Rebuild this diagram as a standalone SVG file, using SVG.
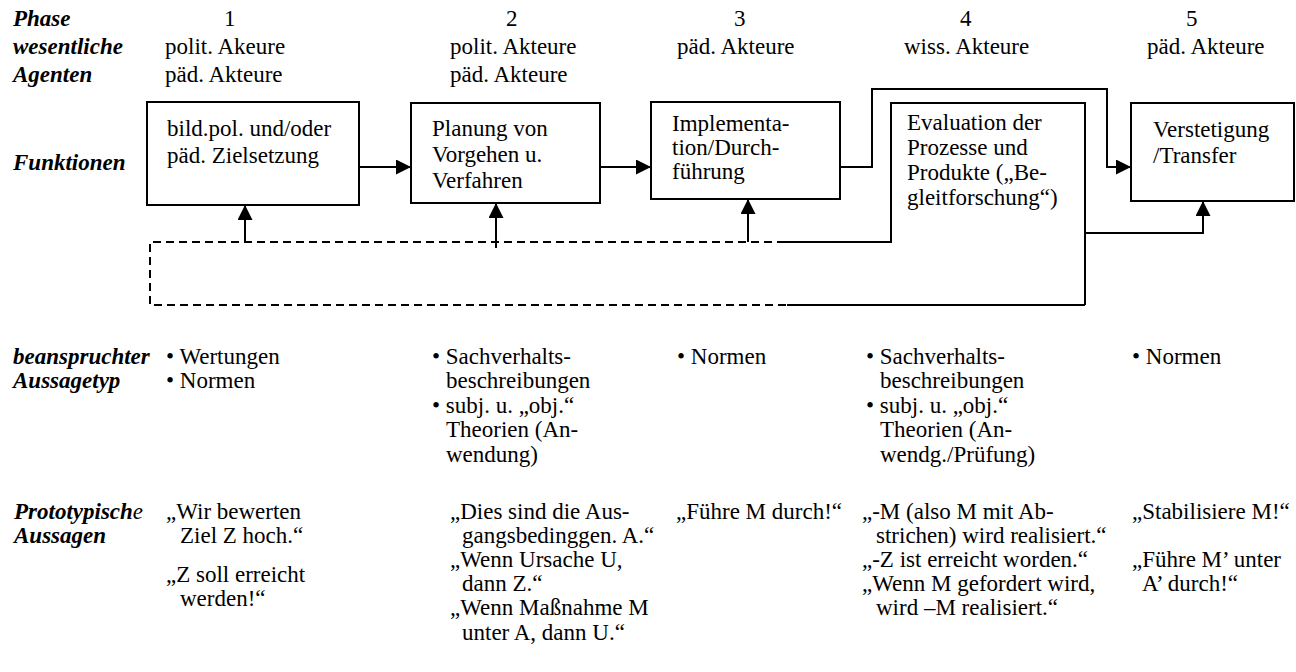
<svg xmlns="http://www.w3.org/2000/svg" width="1296" height="672" viewBox="0 0 1296 672">
<style>
text { font-family: "Liberation Serif", "Times New Roman", serif; font-size: 23px; fill: #000; }
.lbl { font-weight: bold; font-style: italic; }
.box { fill: #fff; stroke: #000; stroke-width: 2; }
.ln { fill: none; stroke: #000; stroke-width: 2; }
.dash { fill: none; stroke: #000; stroke-width: 2; stroke-dasharray: 8 5; }
</style>
<defs>
<marker id="ah" markerWidth="15" markerHeight="15" refX="15" refY="7.5" orient="auto" markerUnits="userSpaceOnUse"><path d="M0,0 L15,7.5 L0,15 z" fill="#000"/></marker>
</defs>
<rect x="0" y="0" width="1296" height="672" fill="#fff"/>

<g id="row-labels">
<text class="lbl" x="13" y="26">Phase</text>
<text class="lbl" x="13" y="54">wesentliche</text>
<text class="lbl" x="13" y="82">Agenten</text>
<text class="lbl" x="13" y="170">Funktionen</text>
<text class="lbl" x="13" y="364">beanspruchter</text>
<text class="lbl" x="13" y="388">Aussagetyp</text>
<text class="lbl" x="14" y="519">Prototypisch<tspan font-weight="normal">e</tspan></text>
<text class="lbl" x="14" y="543">Aussagen</text>
</g>

<g id="phase-header">
<text x="224" y="26">1</text>
<text x="506" y="26">2</text>
<text x="734" y="26">3</text>
<text x="960" y="26">4</text>
<text x="1186" y="26">5</text>
<text x="165" y="54">polit. Akeure</text>
<text x="165" y="82">päd. Akteure</text>
<text x="450" y="54">polit. Akteure</text>
<text x="450" y="82">päd. Akteure</text>
<text x="677" y="54">päd. Akteure</text>
<text x="904" y="54">wiss. Akteure</text>
<text x="1147" y="54">päd. Akteure</text>
</g>

<g id="node-zielsetzung">
<rect class="box" x="147" y="102" width="212" height="103"/>
<text x="167" y="136">bild.pol. und/oder</text>
<text x="167" y="163">päd. Zielsetzung</text>
</g>

<g id="node-planung">
<rect class="box" x="411" y="103" width="189" height="100"/>
<text x="432" y="136">Planung von</text>
<text x="432" y="162">Vorgehen u.</text>
<text x="432" y="188">Verfahren</text>
</g>

<g id="node-implementation">
<rect class="box" x="651" y="102" width="189" height="97"/>
<text x="672" y="131">Implementa-</text>
<text x="672" y="155">tion/Durch-</text>
<text x="672" y="179">führung</text>
</g>

<g id="node-evaluation">
<path class="ln" d="M891,243 V103 H1085 V305"/>
<text x="907" y="130">Evaluation der</text>
<text x="907" y="155">Prozesse und</text>
<text x="907" y="180">Produkte („Be-</text>
<text x="907" y="205">gleitforschung“)</text>
</g>

<g id="node-verstetigung">
<rect class="box" x="1131" y="103" width="163" height="98"/>
<text x="1153" y="137">Verstetigung</text>
<text x="1153" y="163">/Transfer</text>
</g>

<g id="connectors">
<line class="ln" x1="359" y1="167" x2="411" y2="167" marker-end="url(#ah)"/>
<line class="ln" x1="600" y1="167" x2="651" y2="167" marker-end="url(#ah)"/>
<path class="ln" d="M840,167 H872 V89 H1107 V167 H1131" marker-end="url(#ah)"/>
<line class="ln" x1="245" y1="242" x2="245" y2="205" marker-end="url(#ah)"/>
<line class="ln" x1="496" y1="248" x2="496" y2="203" marker-end="url(#ah)"/>
<line class="ln" x1="748" y1="242" x2="748" y2="199" marker-end="url(#ah)"/>
<path class="ln" d="M1085,233 H1203 V201" marker-end="url(#ah)"/>
<path class="dash" d="M785,242 H150 V305 H787"/>
<path class="ln" d="M785,242 H891"/>
<path class="ln" d="M787,305 H1085"/>
</g>

<g id="aussagetyp">
<text x="166" y="364">• Wertungen</text>
<text x="166" y="388">• Normen</text>
<text x="432" y="364">• Sachverhalts-</text>
<text x="446" y="388">beschreibungen</text>
<text x="432" y="413">• subj. u. „obj.“</text>
<text x="446" y="437">Theorien (An-</text>
<text x="446" y="462">wendung)</text>
<text x="677" y="364">• Normen</text>
<text x="866" y="364">• Sachverhalts-</text>
<text x="880" y="388">beschreibungen</text>
<text x="866" y="413">• subj. u. „obj.“</text>
<text x="880" y="437">Theorien (An-</text>
<text x="880" y="462">wendg./Prüfung)</text>
<text x="1132" y="364">• Normen</text>
</g>

<g id="aussagen">
<text x="166" y="519">„Wir bewerten</text>
<text x="180" y="543">Ziel Z hoch.“</text>
<text x="166" y="582">„Z soll erreicht</text>
<text x="180" y="606">werden!“</text>
<text x="450" y="519">„Dies sind die Aus-</text>
<text x="462" y="543">gangsbedinggen. A.“</text>
<text x="450" y="567">„Wenn Ursache U,</text>
<text x="462" y="591">dann Z.“</text>
<text x="450" y="615">„Wenn Maßnahme M</text>
<text x="462" y="640">unter A, dann U.“</text>
<text x="676" y="519">„Führe M durch!“</text>
<text x="862" y="519">„-M (also M mit Ab-</text>
<text x="876" y="543">strichen) wird realisiert.“</text>
<text x="862" y="567">„-Z ist erreicht worden.“</text>
<text x="862" y="591">„Wenn M gefordert wird,</text>
<text x="876" y="615">wird –M realisiert.“</text>
<text x="1132" y="519">„Stabilisiere M!“</text>
<text x="1132" y="567">„Führe M’ unter</text>
<text x="1142" y="591">A’ durch!“</text>
</g>
</svg>
